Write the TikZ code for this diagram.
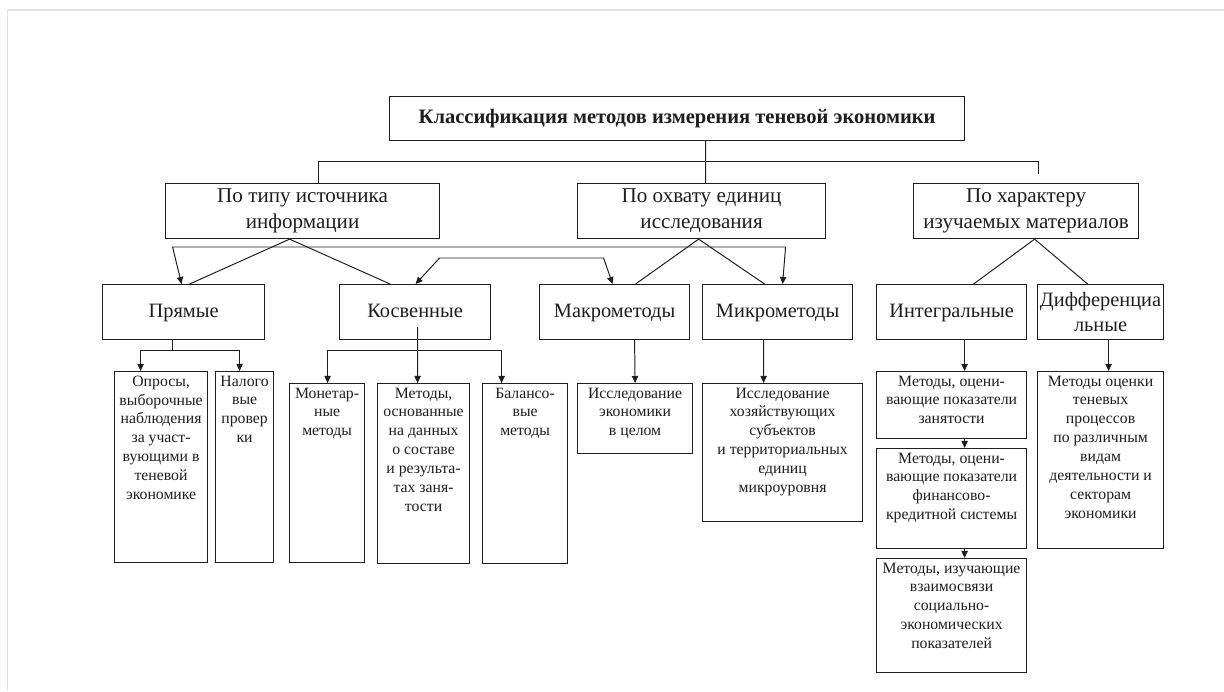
\documentclass[tikz,border=0pt]{standalone}
\usepackage{fontspec}
\setmainfont{Liberation Serif}
\usepackage{tikz}
\usetikzlibrary{arrows.meta, positioning, calc}
\definecolor{mydark}{RGB}{30,30,30}
\definecolor{myframe}{RGB}{226,226,226}
\newcommand{\boxtext}[3]{\parbox[t][#2][t]{#1}{\centering\vspace*{3pt}#3}}
\tikzset{
  topbox/.style={rectangle, draw=mydark, line width=0.8pt, anchor=north west,
    inner sep=0pt, align=center, text=mydark,
    font=\fontsize{14.6}{17}\selectfont\bfseries},
  groupbox/.style={rectangle, draw=mydark, line width=0.8pt, anchor=north west,
    inner sep=0pt, align=center, minimum height=1.375cm, text=mydark,
    font=\fontsize{15}{18.5}\selectfont},
  kindbox/.style={rectangle, draw=mydark, line width=0.8pt, anchor=north west,
    inner sep=0pt, align=center, minimum height=1.375cm, text=mydark,
    font=\fontsize{14.5}{18}\selectfont},
  leafbox/.style={rectangle, draw=mydark, line width=0.8pt, anchor=north west,
    inner sep=0pt, text=mydark, font=\fontsize{11.2}{13.4}\selectfont},
  arrow/.style={-{Triangle[length=5pt,width=4.5pt]}, line width=0.7pt, color=mydark},
  biarrow/.style={{Triangle[length=5pt,width=4.5pt]}-{Triangle[length=5pt,width=4.5pt]},
    line width=0.7pt, color=mydark},
  line/.style={line width=0.7pt, color=mydark}
}

\begin{document}
\begin{tikzpicture}[x=0.025cm, y=-0.025cm]
  \useasboundingbox (0,0) rectangle (1224,691);
  % page frame
  \draw[myframe, line width=2pt] (7,10) -- (1224,10);
  \draw[myframe, line width=0.6pt] (7,10) -- (7,691);

  % Title
  \node[topbox, minimum width=14.375cm, minimum height=1.1cm] (title) at (389,96)
    {Классификация методов измерения теневой экономики};

  % Criteria
  \node[groupbox, minimum width=6.85cm] (tip) at (165,183) {По типу источника\\информации};
  \node[groupbox, minimum width=6.2cm] (ohvat) at (577,183) {По охвату единиц\\исследования};
  \node[groupbox, minimum width=5.625cm] (harakter) at (913,183) {По характеру\\изучаемых материалов};

  % Kinds of methods
  \node[kindbox, minimum width=4.05cm] (pryamye) at (102,284) {\strut Прямые};
  \node[kindbox, minimum width=3.775cm] (kosv) at (339,284) {\strut Косвенные};
  \node[kindbox, minimum width=3.75cm] (makro) at (539,284) {\strut Макрометоды};
  \node[kindbox, minimum width=3.75cm] (mikro) at (702,284) {\strut Микрометоды};
  \node[kindbox, minimum width=3.75cm] (integr) at (876,284) {\strut Интегральные};
  \node[kindbox, minimum width=3.15cm] (diff) at (1037,284) {Дифференциа\\льные};

  % Leaves
  \node[leafbox] (oprosy) at (114,371) {\boxtext{2.325cm}{4.775cm}{Опросы,\\выборочные\\наблюдения\\за участ-\\вующими в\\теневой\\экономике}};
  \node[leafbox] (nalog) at (215,371) {\boxtext{1.45cm}{4.775cm}{Налого\\вые\\провер\\ки}};
  \node[leafbox] (monet) at (289,383) {\boxtext{1.875cm}{4.475cm}{Монетар-\\ные\\методы}};
  \node[leafbox] (osnov) at (377,383) {\boxtext{2.3cm}{4.5cm}{Методы,\\основанные\\на данных\\о составе\\и результа-\\тах заня-\\тости}};
  \node[leafbox] (balans) at (482,383) {\boxtext{2.125cm}{4.5cm}{Балансо-\\вые\\методы}};
  \node[leafbox] (celom) at (577,383) {\boxtext{2.875cm}{1.75cm}{Исследование\\экономики\\в целом}};
  \node[leafbox] (hozy) at (702,383) {\boxtext{4.0cm}{3.45cm}{Исследование\\хозяйствующих\\субъектов\\и территориальных\\единиц\\микроуровня}};
  \node[leafbox] (zan) at (876,371) {\boxtext{3.75cm}{1.675cm}{Методы, оцени-\\вающие показатели\\занятости}};
  \node[leafbox] (fin) at (876,448) {\boxtext{3.75cm}{2.5cm}{Методы, оцени-\\вающие показатели\\финансово-\\кредитной системы}};
  \node[leafbox] (vzaim) at (876,558) {\boxtext{3.75cm}{2.85cm}{Методы, изучающие\\взаимосвязи\\социально-\\экономических\\показателей}};
  \node[leafbox] (teneproc) at (1037,371) {\boxtext{3.15cm}{4.425cm}{Методы оценки\\теневых\\процессов\\по различным\\видам\\деятельности и\\секторам\\экономики}};

  % Title to criteria
  \draw[line] ($(title.south)+(28.5,0)$) -- ($(ohvat.north)+(4,0)$);
  \draw[line] ($(tip.north)+(16,0)$) |- ($(harakter.north)+(12.5,-22)$) -- ++(0,13);

  % Criteria to kinds
  \draw[line] ($(tip.south)+(-13,0)$) -- ($(pryamye.north)+(6,0)$);
  \draw[line] ($(tip.south)+(-13,0)$) -- ($(kosv.north)+(-25,0)$);
  \draw[line] ($(ohvat.south)+(-3,0)$) -- ($(makro.north)+(21,0)$);
  \draw[line] ($(ohvat.south)+(-3,0)$) -- ($(mikro.north)+(-13,0)$);
  \draw[line] ($(harakter.south)+(8.5,0)$) -- ($(integr.north)+(22,0)$);
  \draw[line] ($(harakter.south)+(8.5,0)$) -- ($(diff.north)+(-13,0)$);

  % Links between kinds
  \draw[biarrow] ($(pryamye.north)+(-2,0)$) -- ($(pryamye.north)+(-11,-37)$)
    -- ($(mikro.north)+(8,-37)$) -- ($(mikro.north)+(5,0)$);
  \draw[biarrow] ($(kosv.north)+(0.5,0)$) -- ($(kosv.north)+(24.5,-26)$)
    -- ($(makro.north)+(-11,-26)$) -- ($(makro.north)+(-2,0)$);

  % Kinds to leaves
  \draw[line] ($(pryamye.south)+(-11,0)$) -- ++(0,10) coordinate (pj);
  \draw[arrow] (pj) -| ($(oprosy.north)+(-20.5,0)$);
  \draw[arrow] (pj) -| ($(nalog.north)+(-5,0)$);
  \draw[arrow] ($(kosv.south)+(2.5,-13)$) -- ($(osnov.north)+(-6,0)$);
  \draw[arrow] ($(kosv.south)+(2.5,10)$) -| ($(monet.north)+(0.5,0)$);
  \draw[arrow] ($(kosv.south)+(2.5,10)$) -| ($(balans.north)+(-23.5,0)$);
  \draw[arrow] ($(makro.south)+(20,0)$) -- (celom.north);
  \draw[arrow] ($(mikro.south)+(-14,0)$) -- ($(hozy.north)+(-19,0)$);
  \draw[arrow] ($(integr.south)+(13,0)$) -- ($(zan.north)+(13,0)$);
  \draw[arrow] ($(zan.south)+(13,0)$) -- ($(fin.north)+(13,0)$);
  \draw[arrow] ($(fin.south)+(13,0)$) -- ($(vzaim.north)+(13,0)$);
  \draw[arrow] ($(diff.south)+(8,0)$) -- ($(teneproc.north)+(8,0)$);
\end{tikzpicture}
\end{document}
